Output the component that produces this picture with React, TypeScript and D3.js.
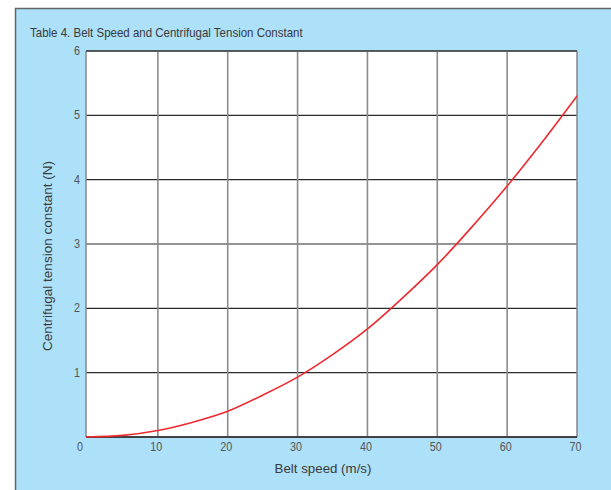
import React from "react";
import * as d3 from "d3";

const speeds = [0, 5, 10, 15, 20, 25, 30, 35, 40, 45, 50, 55, 60, 65, 70];
const tension = [0, 0.025, 0.1, 0.23, 0.4, 0.65, 0.93, 1.28, 1.68, 2.16, 2.68, 3.27, 3.9, 4.58, 5.3];
const xTicks = [0, 10, 20, 30, 40, 50, 60, 70];
const yTicks = [0, 1, 2, 3, 4, 5, 6];
const yTickLabels = [1, 2, 3, 4, 5, 6];
const title = "Table 4. Belt Speed and Centrifugal Tension Constant";
const xLabel = "Belt speed (m/s)";
const yLabel = "Centrifugal tension constant (N)";

const W = 611;
const H = 490;
const FONT = "'Liberation Sans', Arial, sans-serif";

export default function App() {
  const left = 86;
  const right = 577;
  const top = 51;
  const bottom = 437;
  const x = d3.scaleLinear().domain([0, 70]).range([88, right]);
  const y = d3.scaleLinear().domain([0, 6]).range([bottom, top]);
  const data = speeds.map((s, i) => [s, tension[i]] as [number, number]);
  const line = d3
    .line<[number, number]>()
    .x((d) => (d[0] === 0 ? left : x(d[0])))
    .y((d) => y(d[1]))
    .curve(d3.curveMonotoneX);

  return (
    <svg
      width={W}
      height={H}
      style={{ position: "absolute", left: 0, top: 0, display: "block" }}
      fontFamily={FONT}
    >
      <rect x={0} y={0} width={W} height={H} fill="#ffffff" />
      <rect x={15.5} y={8.5} width={W + 10} height={H + 10} fill="#ade0f9" stroke="#666" strokeWidth={1.5} />
      <text transform="translate(30,37) scale(0.885,1)" fontSize={13} fill="#3a3a3a">
        {title}
      </text>
      <rect x={left} y={top} width={right - left} height={bottom - top} fill="#ffffff" />
      {yTicks.map((t) => (
        <line key={"h" + t} x1={left} x2={right} y1={y(t)} y2={y(t)} stroke="#2a2a2a" strokeWidth={1.2} />
      ))}
      {xTicks.map((t) => {
        const px = t === 0 ? left : x(t);
        return <line key={"v" + t} x1={px} x2={px} y1={top} y2={bottom} stroke="#8c8c8c" strokeWidth={1.6} />;
      })}
      <line x1={left} x2={right} y1={bottom} y2={bottom} stroke="#2a2a2a" strokeWidth={1.4} />
      <line x1={left} x2={right} y1={top} y2={top} stroke="#2a2a2a" strokeWidth={1.2} />
      <path d={line(data) || ""} fill="none" stroke="#ec2a2f" strokeWidth={1.6} />
      {yTickLabels.map((t) => (
        <text
          key={"yl" + t}
          transform={`translate(80,${y(t) + 4}) scale(0.9,1)`}
          fontSize={12}
          fill="#555"
          textAnchor="end"
        >
          {t}
        </text>
      ))}
      {xTicks.map((t) => (
        <text
          key={"xl" + t}
          transform={`translate(${t === 0 ? 80 : x(t) - 1.5},451) scale(0.9,1)`}
          fontSize={12}
          fill="#555"
          textAnchor="middle"
        >
          {t}
        </text>
      ))}
      <text transform="translate(323,473)" fontSize={13.3} fill="#3a3a3a" textAnchor="middle">
        {xLabel}
      </text>
      <text transform={`translate(52, 256) rotate(-90)`} fontSize={13.5} fill="#3a3a3a" textAnchor="middle">
        {yLabel}
      </text>
    </svg>
  );
}
